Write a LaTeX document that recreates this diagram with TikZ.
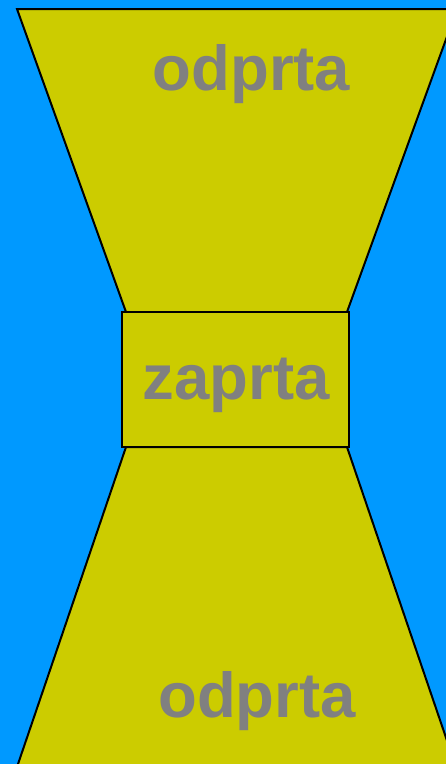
\documentclass[tikz,border=0pt]{standalone}
\usepackage{fontspec}
\setmainfont{Liberation Sans}
\usepackage{tikz}
\usetikzlibrary{positioning}
\definecolor{lockblue}{HTML}{0099FF}
\definecolor{lockolive}{HTML}{CCCC00}
\definecolor{lockgray}{HTML}{808080}
\tikzset{
  chamber/.style={draw=black,fill=lockolive,line width=2pt,line join=miter},
  locklabel/.style={anchor=base,text=lockgray,inner sep=0pt,font=\fontsize{63.5}{63.5}\selectfont\bfseries}
}
\begin{document}
\begin{tikzpicture}[x=1pt,y=-1pt]
        \useasboundingbox (0,0) rectangle (446,764);
        \fill[lockblue] (0,0) rectangle (446,764);
        \clip (0,0) rectangle (446,764);
        % upper and lower basin
        \draw[chamber] (17,9) -- (457,9) -- (347,312) -- (126,312) -- cycle;
        \draw[chamber] (126,447) -- (347,447) -- (456,767) -- (17,767) -- cycle;
        % gate
        \draw[chamber] (122,312) rectangle (349,447);
        \node[locklabel] (top) at (251.5,90) {odprta};
        \node[locklabel] (mid) at (236,399) {zaprta};
        \node[locklabel] (bot) at (257,717) {odprta};
      \end{tikzpicture}
\end{document}
